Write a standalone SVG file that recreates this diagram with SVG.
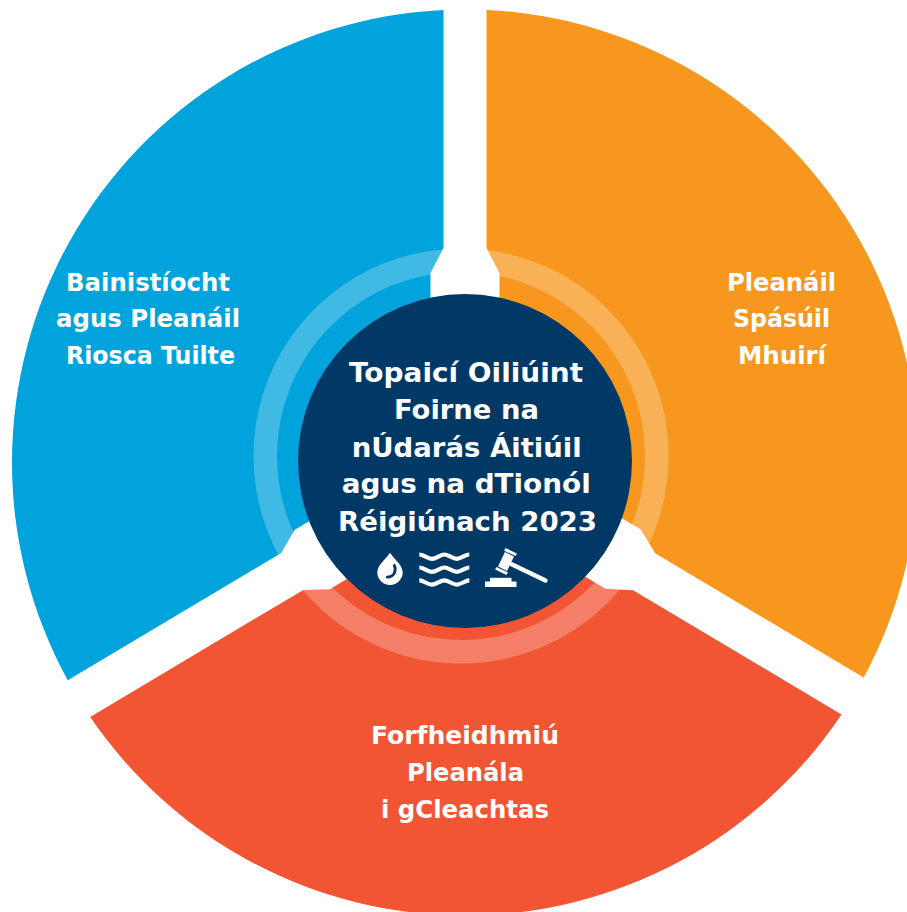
<svg xmlns="http://www.w3.org/2000/svg" width="907" height="912" viewBox="0 0 907 912">
<defs>
<style>
.seg{font-family:"DejaVu Sans","Liberation Sans",sans-serif;font-weight:700;font-size:24px;fill:#fff;text-anchor:middle}
.title{font-family:"DejaVu Sans","Liberation Sans",sans-serif;font-weight:700;font-size:27px;fill:#fff;text-anchor:middle}
.wave{fill:none;stroke:#fff;stroke-width:4.2}
.icon{fill:#fff}
</style>
<path id="wave" d="M419.3,-2.2 C423.8,-2.2 427.3,2.2 431.8,2.2 S440.3,-2.2 444.3,-2.2 S452.8,2.2 456.8,2.2 S465.3,-2.2 469.3,-2.2"/>
</defs>
<rect width="907" height="912" fill="#fff"/>
<g id="connectors"/>
<g id="segment-blue">
<path fill="#00A3DB" d="M443.5,10 L443.5,248 L430.5,273 L430.5,448.9 L294.44,530 L281.33,552.94 L67.76,680.24 A453,453 0 0 1 443.5,10 Z"/>
<text class="seg" x="148" y="290.7" textLength="164" lengthAdjust="spacingAndGlyphs">Bainistíocht</text>
<text class="seg" x="148" y="327.3" textLength="184" lengthAdjust="spacingAndGlyphs">agus Pleanáil</text>
<text class="seg" x="150.5" y="363.5" textLength="169" lengthAdjust="spacingAndGlyphs">Riosca Tuilte</text>
</g>
<g id="segment-orange">
<path fill="#F7971E" d="M486.5,10 A453,453 0 0 1 863.68,677.6 L655.11,553.28 L640.72,529.57 L499.5,445.4 L499.5,273 L486.5,248 Z"/>
<text class="seg" x="781.5" y="290.7" textLength="109" lengthAdjust="spacingAndGlyphs">Pleanáil</text>
<text class="seg" x="781.5" y="327.3" textLength="97" lengthAdjust="spacingAndGlyphs">Spásúil</text>
<text class="seg" x="782" y="363.5" textLength="88" lengthAdjust="spacingAndGlyphs">Mhuirí</text>
</g>
<g id="segment-red">
<path fill="#F15533" d="M90.2,716.93 L303.35,589.88 L329.76,589.28 L467.94,506.9 L605.4,588.85 L633.09,590.22 L841.48,714.43 A453,453 0 0 1 90.2,716.93 Z"/>
<text class="seg" x="465" y="744" textLength="188" lengthAdjust="spacingAndGlyphs">Forfheidhmiú</text>
<text class="seg" x="465.5" y="781" textLength="117" lengthAdjust="spacingAndGlyphs">Pleanála</text>
<text class="seg" x="465" y="818" textLength="168" lengthAdjust="spacingAndGlyphs">i gCleachtas</text>
</g>
<g id="ring">
<circle cx="461" cy="456" r="195.75" fill="none" stroke="#fff" stroke-opacity="0.25" stroke-width="23.5"/>
</g>
<g id="center">
<circle cx="465" cy="461" r="167" fill="#003965"/>
<text class="title" x="466" y="381.7" textLength="234" lengthAdjust="spacingAndGlyphs">Topaicí Oiliúint</text>
<text class="title" x="466.5" y="419.3" textLength="145" lengthAdjust="spacingAndGlyphs">Foirne na</text>
<text class="title" x="466.7" y="456.7" textLength="230" lengthAdjust="spacingAndGlyphs">nÚdarás Áitiúil</text>
<text class="title" x="466.2" y="493.3" textLength="249" lengthAdjust="spacingAndGlyphs">agus na dTionól</text>
<text class="title" x="467.5" y="531" textLength="259" lengthAdjust="spacingAndGlyphs">Réigiúnach 2023</text>
<g id="icon-drop">
<path class="icon" d="M390,552.7 C386,559 377.3,565 377.3,572.3 A12.7,12.7 0 0 0 402.7,572.3 C402.7,565 394,559 390,552.7 Z"/>
<path d="M394.3,565.5 C396.8,570.5 394.2,576.8 387.2,577.2" fill="none" stroke="#003965" stroke-width="2.8" stroke-linecap="round"/>
</g>
<g id="icon-waves">
<use href="#wave" class="wave" y="556.7"/>
<use href="#wave" class="wave" y="569.7"/>
<use href="#wave" class="wave" y="582.5"/>
</g>
<g id="icon-gavel">
<rect class="icon" x="485" y="581.5" width="31.5" height="5.5"/>
<rect class="icon" x="490" y="577.8" width="21.5" height="4.2"/>
<g transform="translate(506,561.5) rotate(25.6)">
<rect class="icon" x="4" y="-2.2" width="42" height="4.4" rx="2.2"/>
<rect class="icon" x="-5" y="-8" width="10" height="16"/>
<rect class="icon" x="-6.3" y="-12" width="12.6" height="3"/>
<rect class="icon" x="-6.3" y="9" width="12.6" height="3"/>
</g>
</g>
</g>
</svg>
